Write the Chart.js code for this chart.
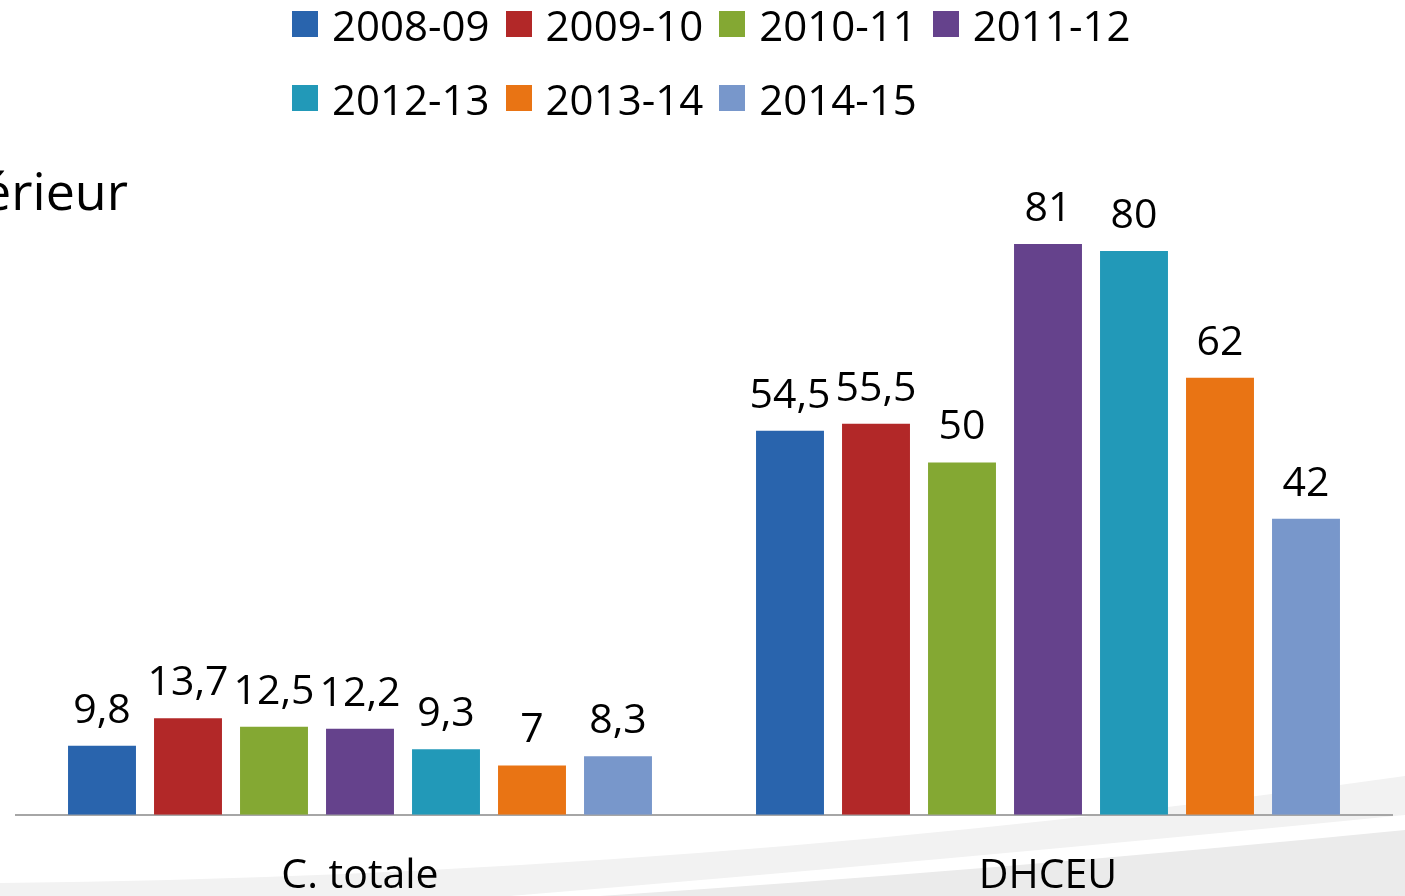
<!DOCTYPE html>
<html lang="fr">
<head>
<meta charset="utf-8">
<script src="https://cdn.jsdelivr.net/npm/chart.js@4.4.1/dist/chart.umd.min.js"></script>
<style>
html,body{margin:0;padding:0;background:#fff;overflow:hidden;width:1405px;height:896px;}
body{position:relative;font-family:'Open Sans',sans-serif;color:#000;}
#wrap{position:absolute;left:0;top:0;width:1405px;height:938px;}
#legend{position:absolute;left:292px;top:-13px;width:900px;display:flex;flex-wrap:wrap;z-index:2;}
.li{display:flex;align-items:center;height:74px;margin-right:16px;font-size:42px;white-space:nowrap;}
.li span{display:inline-block;width:26px;height:26px;margin-right:14px;}
.br{flex-basis:100%;height:0;}
#title{position:absolute;right:1277px;top:164px;font-size:52px;line-height:52px;white-space:nowrap;z-index:2;}
</style>
</head>
<body>
<div id="wrap"><canvas id="c"></canvas></div>
<div id="legend"></div>
<div id="title">Enseignement supérieur</div>
<script>
const qs=s=>document.querySelector(s);

// données
const categories=['C. totale','DHCEU'];
const seasons=['2008-09','2009-10','2010-11','2011-12','2012-13','2013-14','2014-15'];
const colors=['#2964AD','#B22828','#84A833','#65428C','#2299B8','#E97414','#7897CB'];
const s0809=[9.8,54.5];
const s0910=[13.7,55.5];
const s1011=[12.5,50];
const s1112=[12.2,81];
const s1213=[9.3,80];
const s1314=[7,62];
const s1415=[8.3,42];
const series=[s0809,s0910,s1011,s1112,s1213,s1314,s1415];

const fmt=v=>String(v).replace('.',',');

// fond gris en vague
const swoosh={id:'swoosh',beforeDraw(chart){
  const ctx=chart.ctx; ctx.save();
  ctx.fillStyle='#f2f2f2';
  ctx.beginPath(); ctx.moveTo(0,883); ctx.quadraticCurveTo(700,876,1405,776);
  ctx.lineTo(1405,815); ctx.quadraticCurveTo(950,860,510,896); ctx.lineTo(510,940); ctx.lineTo(0,940); ctx.closePath(); ctx.fill();
  ctx.fillStyle='#ebebeb';
  ctx.beginPath(); ctx.moveTo(600,896); ctx.quadraticCurveTo(1000,870,1405,830);
  ctx.lineTo(1405,940); ctx.lineTo(600,940); ctx.closePath(); ctx.fill();
  ctx.restore();
}};

const valueLabels={id:'valueLabels',afterDatasetsDraw(chart){
  const ctx=chart.ctx; ctx.save();
  ctx.font='41px "Open Sans"'; ctx.fillStyle='#000'; ctx.textAlign='center'; ctx.textBaseline='alphabetic';
  chart.data.datasets.forEach((ds,i)=>{
    chart.getDatasetMeta(i).data.forEach((bar,j)=>{ ctx.fillText(fmt(ds.data[j]),bar.x,bar.y-23); });
  });
  ctx.restore();
}};

const chart=new Chart(qs('#c').getContext('2d'),{
  type:'bar',
  data:{labels:categories,datasets:seasons.map((s,i)=>({label:s,data:series[i],backgroundColor:colors[i],borderWidth:0}))},
  options:{
    responsive:true,maintainAspectRatio:false,animation:false,
    layout:{padding:{left:16,right:13,top:110,bottom:0}},
    datasets:{bar:{categoryPercentage:0.875,barPercentage:0.79}},
    scales:{
      y:{display:false,min:0,max:100},
      x:{grid:{display:false,drawTicks:false},border:{display:true,color:'#a6a6a6',width:2},
         ticks:{color:'#000',font:{family:'Open Sans',size:41},padding:37}}
    },
    plugins:{legend:{display:false},tooltip:{enabled:false}}
  },
  plugins:[swoosh,valueLabels]
});

// légende HTML (4 + 3 entrées, alignées à gauche)
const leg=qs('#legend');
seasons.forEach((s,i)=>{
  if(i===4){ const b=document.createElement('div'); b.className='br'; leg.appendChild(b); }
  const d=document.createElement('div'); d.className='li';
  d.innerHTML=`<span style="background:${colors[i]}"></span>${s}`;
  leg.appendChild(d);
});
</script>
</body>
</html>
